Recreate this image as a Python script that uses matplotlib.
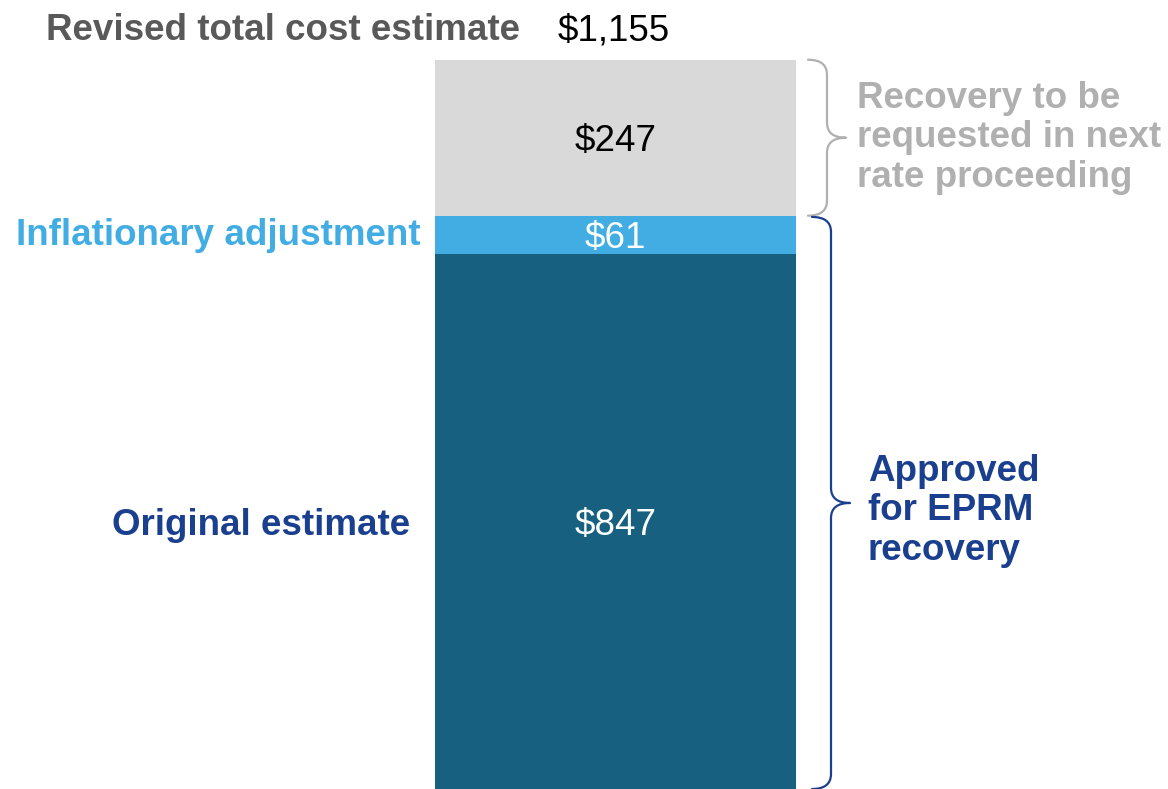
import numpy as np
import matplotlib.pyplot as plt
from matplotlib.path import Path
from matplotlib.patches import PathPatch

plt.rcParams['font.family'] = ['Liberation Sans', 'DejaVu Sans']

# data
segments = ['Original estimate', 'Inflationary adjustment', 'Recovery']
values = [847, 61, 247]
value_labels = ['$847', '$61', '$247']
total = 1155
total_label = '$1,155'
colors = ['#17607F', '#42ADE2', '#D9D9D9']
label_colors = ['white', 'white', 'black']

FS = 26.5
px_per_unit = 0.6314
dy = 4 / px_per_unit  # small downward nudge for text centering


def py(y_px):
    # pixel row from top -> data y (with the same text nudge)
    return (789 - y_px) / px_per_unit - dy


def brace(ax, x, y0, y1, w, color):
    # curly brace, ends on the left, tip pointing right
    ym = (y0 + y1) / 2
    r = 15 / px_per_unit
    xm = x + w * 0.5
    verts = [
        (x, y0),
        (xm, y0), (xm, y0 + r),
        (xm, ym - r),
        (xm, ym), (x + w, ym),
        (xm, ym), (xm, ym + r),
        (xm, y1 - r),
        (xm, y1), (x, y1),
    ]
    codes = [Path.MOVETO,
             Path.CURVE3, Path.CURVE3,
             Path.LINETO,
             Path.CURVE3, Path.CURVE3,
             Path.CURVE3, Path.CURVE3,
             Path.LINETO,
             Path.CURVE3, Path.CURVE3]
    ax.add_patch(PathPatch(Path(verts, codes), fill=False, edgecolor=color, lw=1.6,
                           capstyle='round', joinstyle='round'))


fig = plt.figure(figsize=(11.68, 7.89), dpi=100)
ax = fig.add_axes([0, 0, 1, 1])
ax.set_xlim(0, 1168)
ax.set_ylim(0, 789 / px_per_unit)
ax.axis('off')

bar_x = 615.5
bar_w = 361
bottoms = np.concatenate([[0], np.cumsum(values)[:-1]])
ax.bar([bar_x] * 3, values, width=bar_w, bottom=bottoms, color=colors, linewidth=0)

for v, b, lab, c in zip(values, bottoms, value_labels, label_colors):
    ax.text(bar_x, b + v / 2 - dy, lab, ha='center', va='center', fontsize=FS, color=c)

# left labels
ax.text(410, bottoms[0] + values[0] / 2 - dy, segments[0], ha='right', va='center',
        fontsize=FS, fontweight='bold', color='#1A3F8F')
ax.text(420, py(232), segments[1], ha='right', va='center',
        fontsize=FS, fontweight='bold', color='#42ADE2')

# total
ax.text(520, py(27), 'Revised total cost estimate', ha='right', va='center',
        fontsize=FS, fontweight='bold', color='#595959')
ax.text(558, py(27), total_label, ha='left', va='center', fontsize=FS, color='black')

# braces
brace(ax, 808, values[0] + values[1], total, 38, '#B0B0B0')
brace(ax, 812, 0, values[0] + values[1] - 2, 38, '#1A3F8F')

ax.text(857, py(134), 'Recovery to be\nrequested in next\nrate proceeding',
        ha='left', va='center', fontsize=FS, fontweight='bold', color='#B0B0B0',
        linespacing=1.15)
ax.text(868, py(507), 'Approved\nfor EPRM\nrecovery',
        ha='left', va='center', fontsize=FS, fontweight='bold', color='#1A3F8F',
        linespacing=1.15)

fig.savefig('out.png', dpi=100)
